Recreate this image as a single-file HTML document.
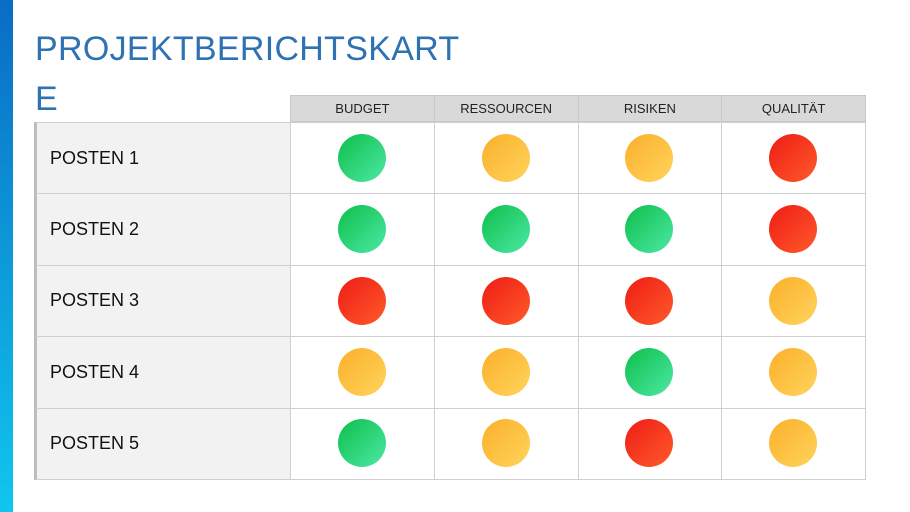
<!DOCTYPE html>
<html><head><meta charset="utf-8"><style>
body{margin:0;width:910px;height:512px;background:#fff;position:relative;overflow:hidden;font-family:"Liberation Sans","DejaVu Sans",sans-serif}
#bar{position:absolute;left:0;top:0;width:13px;height:512px;background:linear-gradient(#0a6cc4,#10c6ee)}
#title{position:absolute;left:35px;top:24px;font-size:34px;line-height:50px;color:#2f72b2;width:430px;word-break:break-all;letter-spacing:0.3px}
.h{position:absolute;top:95px;height:27px;background:#d9d9d9;border:1px solid #c8c8c8;box-sizing:border-box;font-size:13px;color:#222;display:flex;align-items:center;justify-content:center}
.lab{position:absolute;left:34px;width:256px;background:#f2f2f2;border-left:3px solid #bdbdbd;border-bottom:1px solid #cfcfcf;border-top:1px solid #cfcfcf;box-sizing:border-box;font-size:18px;color:#111;display:flex;align-items:center;padding-left:13px}
.c{position:absolute;border:1px solid #cfcfcf;box-sizing:border-box;background:#fff}
.dot{position:absolute;width:48px;height:48px;border-radius:50%}
.g{background:linear-gradient(135deg,#0dbf4a,#4de8a5)}
.o{background:linear-gradient(135deg,#fbaf2a,#ffd45c)}
.r{background:linear-gradient(135deg,#ee1c16,#ff5a2a)}
</style></head><body>
<div id="bar"></div>
<div id="title">PROJEKTBERICHTSKARTE</div>
<div id="t"></div>
<script>
const columns=["BUDGET","RESSOURCEN","RISIKEN","QUALITÄT"];
const rows=["POSTEN 1","POSTEN 2","POSTEN 3","POSTEN 4","POSTEN 5"];
const statuses=[["g","o","o","r"],["g","g","g","r"],["r","r","r","o"],["o","o","g","o"],["g","o","r","o"]];
const t=document.getElementById('t');
const x0=290,cw=143.75,y0=122,rh=71.4;
columns.forEach((c,i)=>{const d=document.createElement('div');d.className='h';


d.style.left=(x0+i*cw)+'px';d.style.width=(cw+1)+'px';d.textContent=c;t.appendChild(d);});
rows.forEach((r,j)=>{const y=y0+j*rh;
const l=document.createElement('div');l.className='lab';


l.style.top=y+'px';l.style.height=(rh+1)+'px';l.textContent=r;t.appendChild(l);
statuses[j].forEach((s,i)=>{const c=document.createElement('div');c.className='c';


c.style.left=(x0+i*cw)+'px';c.style.top=y+'px';c.style.width=(cw+1)+'px';c.style.height=(rh+1)+'px';t.appendChild(c);
const d=document.createElement('div');d.className='dot '+s;


d.style.left=(x0+i*cw+cw/2-24)+'px';d.style.top=(y+rh/2-24)+'px';t.appendChild(d);});});
</script>
</body></html>
